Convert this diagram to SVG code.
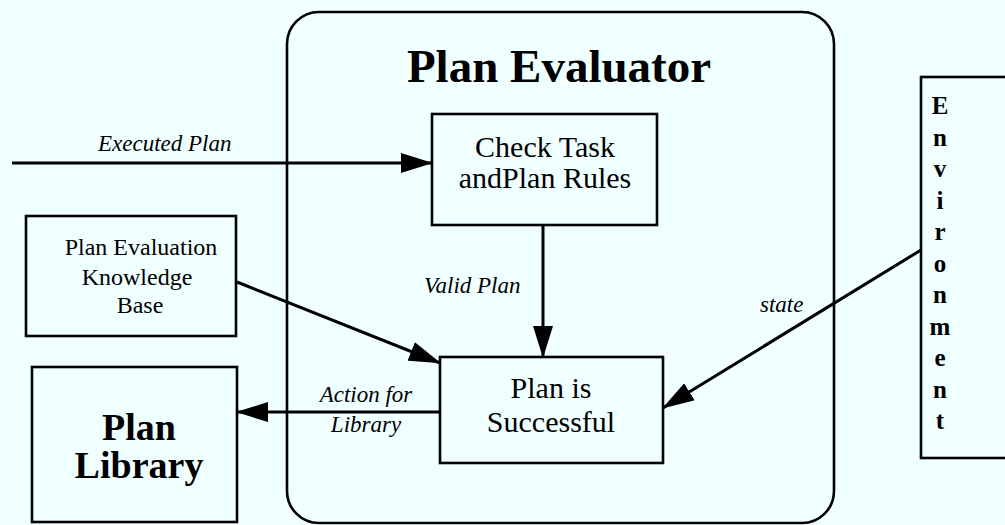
<svg xmlns="http://www.w3.org/2000/svg" width="1005" height="525" viewBox="0 0 1005 525">
<style>
.box{fill:none;stroke:#000;stroke-width:2.6}
.conn{fill:none;stroke:#000;stroke-width:3}
.t{font-family:"Liberation Serif","Times New Roman",serif;fill:#000}
.lbl{font-family:"Liberation Serif","Times New Roman",serif;font-style:italic;font-size:23px;fill:#000}
.b{font-weight:bold}
</style>
<defs>
<marker id="ah" markerUnits="userSpaceOnUse" markerWidth="32" markerHeight="20" refX="31" refY="10" orient="auto">
<path d="M0,0 L32,10 L0,20 z" fill="#000"/>
</marker>
</defs>
<rect width="1005" height="525" fill="#f0ffff"/>
<g id="plan-evaluator">
<rect class="box" x="287" y="12" width="547" height="511" rx="32"/>
<text class="t b" x="559" y="82" font-size="47" text-anchor="middle">Plan Evaluator</text>
</g>
<g id="check-task">
<rect class="box" x="432" y="114" width="225" height="111"/>
<text class="t" x="545" y="157" font-size="30" text-anchor="middle">Check Task</text>
<text class="t" x="545" y="188" font-size="30" text-anchor="middle">andPlan Rules</text>
</g>
<g id="plan-successful">
<rect class="box" x="440" y="357" width="223" height="106"/>
<text class="t" x="551" y="398" font-size="30" text-anchor="middle">Plan is</text>
<text class="t" x="551" y="432" font-size="30" text-anchor="middle">Successful</text>
</g>
<g id="knowledge-base">
<rect class="box" x="26" y="216" width="210" height="120"/>
<text class="t" x="141" y="255" font-size="24" text-anchor="middle">Plan Evaluation</text>
<text class="t" x="137" y="285" font-size="24" text-anchor="middle">Knowledge</text>
<text class="t" x="140" y="313" font-size="24" text-anchor="middle">Base</text>
</g>
<g id="plan-library">
<rect class="box" x="32" y="367" width="205" height="155"/>
<text class="t b" x="139" y="440" font-size="38" text-anchor="middle">Plan</text>
<text class="t b" x="139" y="478" font-size="38" text-anchor="middle">Library</text>
</g>
<g id="environment">
<rect class="box" x="921" y="77" width="100" height="381"/>
<g class="t b" font-size="25" text-anchor="middle">
<text x="940" y="114">E</text>
<text x="940" y="145.5">n</text>
<text x="940" y="177">v</text>
<text x="940" y="208.5">i</text>
<text x="940" y="240">r</text>
<text x="940" y="271.5">o</text>
<text x="940" y="303">n</text>
<text x="940" y="334.5">m</text>
<text x="940" y="366">e</text>
<text x="940" y="397.5">n</text>
<text x="940" y="429">t</text>
</g>
</g>
<g id="connectors">
<line class="conn" x1="12" y1="163" x2="432" y2="163" marker-end="url(#ah)"/>
<text class="lbl" x="98" y="151">Executed Plan</text>
<line class="conn" x1="543" y1="225" x2="543" y2="357" marker-end="url(#ah)"/>
<text class="lbl" x="424" y="293">Valid Plan</text>
<line class="conn" x1="237" y1="282" x2="440" y2="363" marker-end="url(#ah)"/>
<line class="conn" x1="440" y1="412" x2="237" y2="412" marker-end="url(#ah)"/>
<text class="lbl" x="366" y="402" text-anchor="middle">Action for</text>
<text class="lbl" x="366" y="432" text-anchor="middle">Library</text>
<line class="conn" x1="921" y1="250" x2="663" y2="408" marker-end="url(#ah)"/>
<text class="lbl" x="760" y="312">state</text>
</g>
</svg>
